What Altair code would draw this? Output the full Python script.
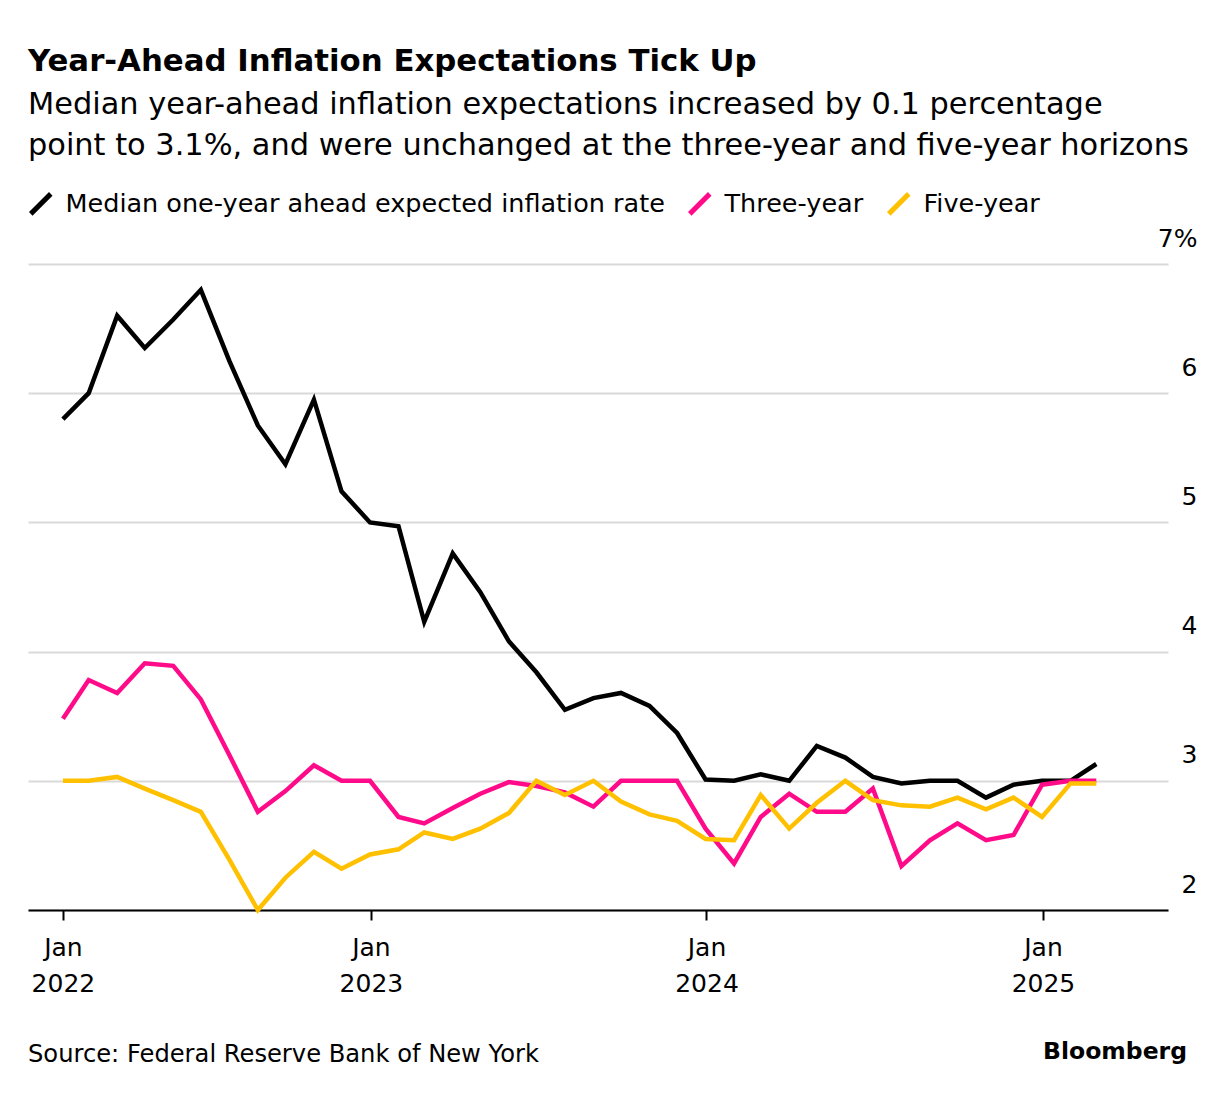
import altair as alt
import pandas as pd

# Monthly survey values, Jan 2022 .. Feb 2025 (dated at month end)
dates = [d.strftime("%Y-%m-%d") for d in pd.date_range("2022-01-31", periods=38, freq=pd.offsets.MonthEnd())]

one_year = [5.8, 6.0, 6.6, 6.35, 6.57, 6.8, 6.25, 5.75, 5.45, 5.95, 5.24, 5.0,
            4.97, 4.23, 4.76, 4.46, 4.08, 3.84, 3.55, 3.64, 3.68, 3.58, 3.37, 3.01,
            3.0, 3.05, 3.0, 3.27, 3.18, 3.03, 2.98, 3.0, 3.0, 2.87, 2.97, 3.0,
            3.0, 3.13]
three_year = [3.48, 3.78, 3.68, 3.91, 3.89, 3.63, 3.2, 2.76, 2.92, 3.12, 3.0, 3.0,
              2.72, 2.67, 2.79, 2.9, 2.99, 2.96, 2.91, 2.8, 3.0, 3.0, 3.0, 2.63,
              2.36, 2.72, 2.9, 2.76, 2.76, 2.94, 2.34, 2.54, 2.67, 2.54, 2.58, 2.97,
              3.0, 3.0]
five_year = [3.0, 3.0, 3.03, 2.94, 2.85, 2.76, 2.39, 2.0, 2.25, 2.45, 2.32, 2.43,
             2.47, 2.6, 2.55, 2.63, 2.75, 3.0, 2.89, 3.0, 2.84, 2.74, 2.69, 2.55,
             2.54, 2.89, 2.63, 2.83, 3.0, 2.85, 2.81, 2.8, 2.87, 2.78, 2.87, 2.72,
             2.98, 2.98]

series_names = ["Median one-year ahead expected inflation rate", "Three-year", "Five-year"]
series_colors = ["#000000", "#FF0B8A", "#FFC000"]
y_ticks = [2, 3, 4, 5, 6, 7]

title_text = "Year-Ahead Inflation Expectations Tick Up"
subtitle_lines = ["Median year-ahead inflation expectations increased by 0.1 percentage",
                  "point to 3.1%, and were unchanged at the three-year and five-year horizons"]
source_text = "Source: Federal Reserve Bank of New York"
brand_text = "Bloomberg"

rows = []
for name, vals in zip(series_names, [one_year, three_year, five_year]):
    for d, v in zip(dates, vals):
        rows.append({"date": d, "value": v, "series": name})
df = pd.DataFrame(rows)

FONT = "DejaVu Sans"
W, H = 1140, 646

x_enc = alt.X(
    "date:T",
    scale=alt.Scale(type="utc",
                    domain=[alt.DateTime(year=2021, month=12, date=24, utc=True),
                            alt.DateTime(year=2025, month=5, date=17, utc=True)]),
    axis=alt.Axis(
        title=None,
        values=[alt.DateTime(year=2022, month=1, date=31, utc=True),
                alt.DateTime(year=2023, month=1, date=1, utc=True),
                alt.DateTime(year=2024, month=1, date=1, utc=True),
                alt.DateTime(year=2025, month=1, date=1, utc=True)],
        labelExpr="[utcFormat(datum.value, '%b'), utcFormat(datum.value, '%Y')]",
        labelLineHeight=36, labelFontSize=25, labelFont=FONT, labelColor="#000000",
        labelPadding=15, labelBaseline="top",
        domainColor="#000000", domainWidth=2,
        tickColor="#000000", tickWidth=2, tickSize=10,
        grid=False,
    ),
)

y_enc = alt.Y(
    "value:Q",
    scale=alt.Scale(domain=[2, 7], nice=False, zero=False),
    axis=alt.Axis(
        orient="right", title=None, values=y_ticks,
        labelExpr="datum.value == 7 ? '7%' : datum.label",
        labelFontSize=25, labelFont=FONT, labelColor="#000000",
        labelAlign="right", labelPadding=29, labelBaseline="alphabetic", labelOffset=-18,
        domain=False, ticks=False,
        grid=True, gridColor="#D9D9D9", gridWidth=2,
    ),
)

lines = alt.Chart(df).mark_line(strokeWidth=4.5, strokeJoin="miter", strokeCap="butt").encode(
    x=x_enc,
    y=y_enc,
    color=alt.Color(
        "series:N",
        scale=alt.Scale(domain=series_names, range=series_colors),
        legend=alt.Legend(
            title=None, orient="none", direction="horizontal",
            legendX=0, legendY=-73,
            symbolType="M-1,1L1,-1", symbolSize=400, symbolStrokeWidth=5,
            labelFontSize=25.5, labelFont=FONT, labelColor="#000000", labelLimit=0,
            labelOffset=12, columnPadding=14, symbolOffset=0,
        ),
    ),
    order=alt.Order("date:T"),
)

source = alt.Chart(pd.DataFrame({"t": [source_text]})).mark_text(
    align="left", baseline="middle", fontSize=24.2, font=FONT, color="#000000"
).encode(text="t:N", x=alt.value(0), y=alt.value(791))

brand = alt.Chart(pd.DataFrame({"t": [brand_text]})).mark_text(
    align="right", baseline="middle", fontSize=23.5, font=FONT, fontWeight="bold", color="#000000"
).encode(text="t:N", x=alt.value(1159), y=alt.value(788))

chart = alt.layer(lines, source, brand).properties(
    width=W, height=H,
    background="#FFFFFF",
    title=alt.TitleParams(
        text=title_text, subtitle=subtitle_lines,
        anchor="start", frame="group",
        font=FONT, fontSize=30.8, fontWeight="bold", color="#000000",
        subtitleFont=FONT, subtitleFontSize=30.4, subtitleColor="#000000",
        subtitleLineHeight=41, subtitlePadding=12, offset=29,
    ),
    autosize=alt.AutoSizeParams(type="none"),
    padding={"left": 20, "top": 256, "right": 50, "bottom": 170},
).configure_view(strokeWidth=0, stroke="transparent")

chart.save("out.html", embed_options={"renderer": "svg", "actions": False})
